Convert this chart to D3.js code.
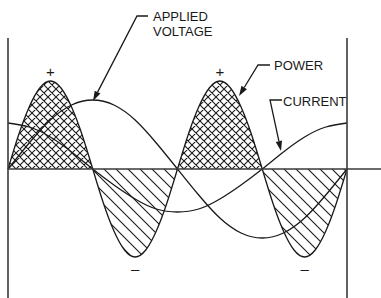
<!DOCTYPE html>
<html><head><meta charset="utf-8">
<script src="https://cdn.jsdelivr.net/npm/d3@7"></script>
<style>html,body{margin:0;padding:0;background:#fff;}svg{display:block;}</style>
</head><body>
<script>
// phase angle samples (degrees)
const phase22 = d3.range(0, 361, 22.5);
const phase11 = d3.range(0, 361, 11.25);
// applied voltage (relative units, + is up)
const voltage = [0, 26, 49, 64, 69, 64, 49, 26, 0, -26, -49, -64, -69, -64, -49, -26, 0];
// current (leads voltage by 90 degrees)
const current = [46, 42, 32, 17, 0, -16, -30, -40, -43, -40, -30, -16, 0, 17, 32, 42, 46];
// power = voltage x current
const power = [0, 34, 62, 81, 88, 81, 62, 34, 0, -34, -62, -81, -88, -81, -62, -34, 0,
               34, 62, 81, 88, 81, 62, 34, 0, -34, -62, -81, -88, -81, -62, -34, 0];
const plusAt = [45, 225];
const minusAt = [135, 315];
const labels = [
  {lines: ["APPLIED", "VOLTAGE"]},
  {lines: ["POWER"]},
  {lines: ["CURRENT"]}
];

const W = 381, H = 298;
const svg = d3.select("body").append("svg").attr("width", W).attr("height", H);
const x = d3.scaleLinear().domain([0, 360]).range([8, 347]);
const y = d3.scaleLinear().domain([-100, 100]).range([269, 69]);
const ink = "#1a1a1a";

const defs = svg.append("defs");
const cross = defs.append("pattern").attr("id", "cross").attr("patternUnits", "userSpaceOnUse")
  .attr("width", 8).attr("height", 8).attr("x", 8).attr("y", y(0));
cross.append("path").attr("d", "M0,0L8,8M-2,6L2,10M6,-2L10,2M0,8L8,0M-2,2L2,-2M6,10L10,6")
  .attr("stroke", ink).attr("stroke-width", 1.1).attr("fill", "none");
const hatch = defs.append("pattern").attr("id", "hatch").attr("patternUnits", "userSpaceOnUse")
  .attr("width", 12).attr("height", 12).attr("x", 8).attr("y", y(0));
hatch.append("path").attr("d", "M0,0L12,12M-3,9L3,15M9,-3L15,3")
  .attr("stroke", ink).attr("stroke-width", 1.1).attr("fill", "none");
defs.append("clipPath").attr("id", "above").append("rect")
  .attr("x", 0).attr("y", 0).attr("width", W).attr("height", y(0));
defs.append("clipPath").attr("id", "below").append("rect")
  .attr("x", 0).attr("y", y(0)).attr("width", W).attr("height", H - y(0));

const pts = power.map((v, i) => [phase11[i], v]);
const area = d3.area().x(d => x(d[0])).y0(y(0)).y1(d => y(d[1])).curve(d3.curveNatural);
svg.append("path").attr("d", area(pts)).attr("fill", "url(#cross)").attr("clip-path", "url(#above)");
svg.append("path").attr("d", area(pts)).attr("fill", "url(#hatch)").attr("clip-path", "url(#below)");

const line = d3.line().x(d => x(d[0])).y(d => y(d[1])).curve(d3.curveNatural);
[[phase22, voltage], [phase22, current], [phase11, power]].forEach(([ph, vals]) => {
  svg.append("path").attr("d", line(vals.map((v, i) => [ph[i], v])))
    .attr("fill", "none").attr("stroke", ink).attr("stroke-width", 1.3);
});

// axes
const axisCol = "#3a3a3a";
svg.append("line").attr("x1", x(0)).attr("x2", W).attr("y1", y(0)).attr("y2", y(0))
  .attr("stroke", axisCol).attr("stroke-width", 1.6);
[0, 360].forEach(p => svg.append("line").attr("x1", x(p)).attr("x2", x(p)).attr("y1", 38).attr("y2", H)
  .attr("stroke", axisCol).attr("stroke-width", 1.6));

// signs
plusAt.forEach(p => svg.append("text").attr("x", x(p)).attr("y", 77).attr("text-anchor", "middle")
  .attr("font-family", "Liberation Sans, Arial, sans-serif").attr("font-size", 15).attr("fill", ink).text("+"));
minusAt.forEach(p => svg.append("text").attr("x", x(p)).attr("y", 274).attr("text-anchor", "middle")
  .attr("font-family", "Liberation Sans, Arial, sans-serif").attr("font-size", 15).attr("fill", ink).text("–"));

// labels with leaders
const labelPos = [[153, 21], [274, 70], [283, 106]];
const leaders = [
  [[148, 16], [137, 16], [93, 101]],
  [[270, 65], [258, 65], [239, 96]],
  [[282, 100], [270, 100], [281, 151]]
];
labels.forEach((lab, i) => {
  const t = svg.append("text").attr("font-family", "Liberation Sans, Arial, sans-serif")
    .attr("font-size", 13).attr("fill", ink);
  lab.lines.forEach((s, j) => t.append("tspan").attr("x", labelPos[i][0]).attr("y", labelPos[i][1] + j * 15).text(s));
  const L = leaders[i];
  const a = L[1], b = L[2];
  const dx = b[0] - a[0], dy = b[1] - a[1], len = Math.hypot(dx, dy);
  const ux = dx / len, uy = dy / len, al = 10, aw = 3.2;
  const base = [b[0] - ux * al, b[1] - uy * al];
  svg.append("path").attr("d", d3.line()([L[0], L[1], base]))
    .attr("fill", "none").attr("stroke", ink).attr("stroke-width", 1.3);
  svg.append("path").attr("d", d3.line()([b, [base[0] - uy * aw, base[1] + ux * aw], [base[0] + uy * aw, base[1] - ux * aw]]) + "Z")
    .attr("fill", ink);
});
</script>
</body></html>
